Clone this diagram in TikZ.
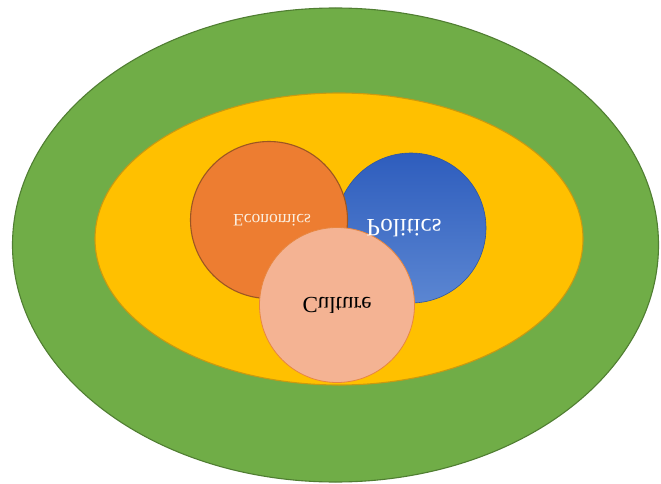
\documentclass[tikz,border=0pt]{standalone}
\usepackage{fontspec}
\usepackage{graphicx}
\setmainfont{Liberation Serif}
\definecolor{outergreen}{HTML}{70AD47}
\definecolor{outergreenline}{HTML}{507E32}
\definecolor{midyellow}{HTML}{FFC000}
\definecolor{midyellowline}{HTML}{C99A10}
\definecolor{econfill}{HTML}{ED7D31}
\definecolor{econline}{HTML}{9C5622}
\definecolor{poltop}{HTML}{2E5DBD}
\definecolor{polbot}{HTML}{5B86D2}
\definecolor{polline}{HTML}{2F55A0}
\definecolor{culfill}{HTML}{F4B393}
\definecolor{culline}{HTML}{E8863F}
\definecolor{econtext}{HTML}{FBEFE0}
\newcommand{\flipv}[1]{\scalebox{1}[-1]{#1}}
\tikzset{
  ring/.style={ellipse, inner sep=0pt, line width=1.1pt},
  topic/.style={circle, inner sep=0pt, line width=1.1pt},
}
\usetikzlibrary{shapes.geometric}
\begin{document}
\begin{tikzpicture}[x=1pt,y=-1pt]
\useasboundingbox[fill=white] (0,0) rectangle (661,484);
\node[ring, fill=outergreen, draw=outergreenline, minimum width=646pt, minimum height=474pt] (outer) at (335.5,245) {};
\node[ring, fill=midyellow, draw=midyellowline, minimum width=488pt, minimum height=292pt] (mid) at (339,239) {};
\node[topic, top color=poltop, bottom color=polbot, draw=polline, line width=0.6pt, minimum size=150pt] (pol) at (411,228) {};
\node[topic, fill=econfill, draw=econline, minimum size=157pt] (econ) at (269,220) {};
\node[topic, fill=culfill, draw=culline, line width=0.8pt, minimum size=155pt] (cul) at (337,305) {};
\node[text=econtext, font=\fontsize{17.5}{17.5}\selectfont] (econt) at (272,220) {\flipv{Economics}};
\node[text=white, font=\fontsize{25}{25}\selectfont] (polt) at (404,228) {\flipv{Politics}};
\node[text=black, font=\fontsize{23}{23}\selectfont] (cult) at (337,305) {\flipv{Culture}};
\end{tikzpicture}
\end{document}
